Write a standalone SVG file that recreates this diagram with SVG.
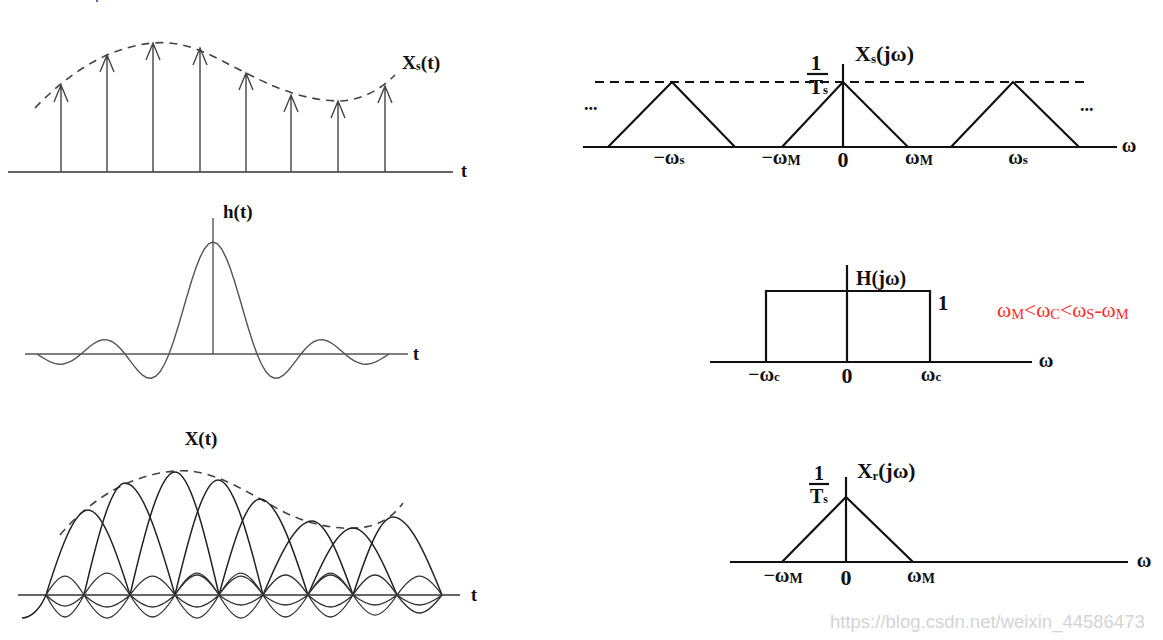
<svg xmlns="http://www.w3.org/2000/svg" width="1163" height="640" viewBox="0 0 1163 640">
<style>
.ax{stroke:#333;stroke-width:1.5;fill:none}
.imp{stroke:#444;stroke-width:1.4;fill:none}
.dash{stroke:#444;stroke-width:1.6;fill:none;stroke-dasharray:8 6}
.sinc{stroke:#555;stroke-width:1.4;fill:none}
.arch{stroke:#222;stroke-width:1.5;fill:none}
.lobe{stroke:#333;stroke-width:1.3;fill:none}
.bk{stroke:#111;stroke-width:2.2;fill:none}
.bkd{stroke:#111;stroke-width:2.2;fill:none;stroke-dasharray:9 6}
.lb{font-family:"Liberation Serif","Times New Roman",serif;font-weight:bold;fill:#111}
.wm{font-family:"Liberation Sans",Arial,sans-serif;fill:#d4d4d4}
.red{font-family:"Liberation Serif","Times New Roman",serif;fill:#ff2a2a}
</style>
<rect width="1163" height="640" fill="#fff"/>
<rect x="96" y="0" width="2" height="2" fill="#4a72b8"/>

<g id="sampled-signal">
<line class="ax" x1="8" y1="172" x2="453" y2="172"/>
<path class="dash" d="M35,108 C60,82 100,48 153,43 C190,40 215,58 246,73 C270,85 300,100 338,101 C360,101 380,90 395,75"/>
<path class="imp" d="M61,172V85M54,102L61,85L68,102"/>
<path class="imp" d="M107,172V55M100,72L107,55L114,72"/>
<path class="imp" d="M153,172V43M146,60L153,43L160,60"/>
<path class="imp" d="M200,172V48M193,65L200,48L207,65"/>
<path class="imp" d="M246,172V73M239,90L246,73L253,90"/>
<path class="imp" d="M291,172V95M284,112L291,95L298,112"/>
<path class="imp" d="M338,172V101M331,118L338,101L345,118"/>
<path class="imp" d="M385,172V86M378,103L385,86L392,103"/>
<text class="lb" x="402" y="69" font-size="19.5">X<tspan font-size="12" dy="1">s</tspan><tspan dy="-1">(t)</tspan></text>
<text class="lb" x="461" y="177" font-size="18">t</text>
</g>

<g id="impulse-response">
<line class="sinc" x1="25" y1="354" x2="408" y2="354"/>
<line class="sinc" x1="213" y1="218" x2="213" y2="354"/>
<polyline class="sinc" points="37,354 41.4,356.8 45.8,359.5 50.2,361.8 54.6,363.4 59,364.2 63.4,364 67.8,362.7 72.2,360.6 76.6,357.6 81,354 85.4,350.2 89.8,346.5 94.2,343.3 98.6,341 103,339.7 107.4,339.9 111.8,341.5 116.2,344.5 120.6,348.8 125,354 129.4,359.8 133.8,365.6 138.2,371 142.6,375.2 147,377.8 151.4,378.2 155.8,376.2 160.2,371.5 164.6,364 169,354 173.4,341.8 177.8,327.8 182.2,312.8 186.6,297.5 191,282.7 195.4,269.2 199.8,257.9 204.2,249.2 208.6,243.8 213,242 217.4,243.8 221.8,249.2 226.2,257.9 230.6,269.2 235,282.7 239.4,297.5 243.8,312.8 248.2,327.8 252.6,341.8 257,354 261.4,364 265.8,371.5 270.2,376.2 274.6,378.2 279,377.8 283.4,375.2 287.8,371 292.2,365.6 296.6,359.8 301,354 305.4,348.8 309.8,344.5 314.2,341.5 318.6,339.9 323,339.7 327.4,341 331.8,343.3 336.2,346.5 340.6,350.2 345,354 349.4,357.6 353.8,360.6 358.2,362.7 362.6,364 367,364.2 371.4,363.4 375.8,361.8 380.2,359.5 384.6,356.8 389,354"/>
<text class="lb" x="223" y="218" font-size="19">h(t)</text>
<text class="lb" x="413" y="360" font-size="18">t</text>
</g>

<g id="reconstructed-signal">
<line class="ax" x1="18" y1="595" x2="460" y2="595"/>
<path class="dash" d="M60,535 C85,505 125,475 175,471 C210,468 240,488 280,510 C310,526 345,532 370,526 C385,522 395,514 403,503"/>
<path class="arch" d="M22,618 C30,618 40,610 46,595 C60,550.4 74,510 88,510 C102,510 116,550.4 130,595"/>
<path class="arch" d="M84,595 C97.7,536.2 111.3,483 125,483 C141.7,483 158.3,536.2 175,595"/>
<path class="arch" d="M130,595 C145,530.4 160,472 175,472 C189.7,472 204.3,530.4 219,595"/>
<path class="arch" d="M175,595 C189.4,534.6 203.6,480 218,480 C233,480 248,534.6 263,595"/>
<path class="arch" d="M219,595 C232.7,544.6 246.3,499 260,499 C276,499 292,544.6 308,595"/>
<path class="arch" d="M263,595 C279.4,556.1 295.6,521 312,521 C325.7,521 339.3,556.1 353,595"/>
<path class="arch" d="M308,595 C323,559.8 338,528 353,528 C367.7,528 382.3,559.8 397,595"/>
<path class="arch" d="M353,595 C366.4,554 379.6,517 393,517 C409.4,517 425.6,554 442,595"/>
<path class="lobe" d="M46,595 C61.2,569.7 68.8,569.7 84,595 M46,595 C61.2,624.3 68.8,624.3 84,595 M46,595 C61.2,609.7 68.8,609.7 84,595"/>
<path class="lobe" d="M84,595 C102.4,565.7 111.6,565.7 130,595 M84,595 C102.4,625.7 111.6,625.7 130,595 M84,595 C102.4,611 111.6,611 130,595"/>
<path class="lobe" d="M130,595 C148,569.7 157,569.7 175,595 M130,595 C148,624.3 157,624.3 175,595 M130,595 C148,611 157,611 175,595"/>
<path class="lobe" d="M175,595 C192.6,565.7 201.4,565.7 219,595 M175,595 C192.6,568.3 201.4,568.3 219,595 M175,595 C192.6,625.7 201.4,625.7 219,595 M175,595 C192.6,611 201.4,611 219,595"/>
<path class="lobe" d="M219,595 C236.6,565.7 245.4,565.7 263,595 M219,595 C236.6,569.7 245.4,569.7 263,595 M219,595 C236.6,625.7 245.4,625.7 263,595 M219,595 C236.6,608.3 245.4,608.3 263,595"/>
<path class="lobe" d="M263,595 C281,568.3 290,568.3 308,595 M263,595 C281,624.3 290,624.3 308,595 M263,595 C281,608.3 290,608.3 308,595"/>
<path class="lobe" d="M308,595 C326,568.3 335,568.3 353,595 M308,595 C326,565.7 335,565.7 353,595 M308,595 C326,624.3 335,624.3 353,595 M308,595 C326,611 335,611 353,595"/>
<path class="lobe" d="M353,595 C370.6,568.3 379.4,568.3 397,595 M353,595 C370.6,621.7 379.4,621.7 397,595 M353,595 C370.6,608.3 379.4,608.3 397,595"/>
<path class="lobe" d="M397,595 C415,569.7 424,569.7 442,595 M397,595 C415,619 424,619 442,595 M397,595 C415,608.3 424,608.3 442,595"/>
<text class="lb" x="201" y="445" font-size="19" text-anchor="middle">X(t)</text>
<text class="lb" x="471" y="601" font-size="18">t</text>
</g>

<g id="sampled-spectrum">
<line class="bk" x1="583" y1="147" x2="1117" y2="147"/>
<line class="bk" x1="843" y1="64" x2="843" y2="147"/>
<line class="bkd" x1="595" y1="82" x2="1088" y2="82"/>
<polyline class="bk" points="608,147 672,82 735,147"/>
<polyline class="bk" points="782,147 843,82 908,147"/>
<polyline class="bk" points="951,147 1013,82 1079,147"/>
<text class="lb" x="816" y="70" font-size="21" text-anchor="middle">1</text>
<line class="bk" x1="807" y1="74" x2="828" y2="74"/>
<text class="lb" x="809" y="94" font-size="21">T<tspan font-size="13">s</tspan></text>
<text class="lb" x="855" y="61" font-size="22">X<tspan font-size="13" dy="2">s</tspan><tspan dy="-2">(jω)</tspan></text>
<text class="lb" x="584" y="110" font-size="18">...</text>
<text class="lb" x="1080" y="111" font-size="18">...</text>
<text class="lb" x="669" y="164" font-size="20" text-anchor="middle">−ω<tspan font-size="13">s</tspan></text>
<text class="lb" x="781" y="164" font-size="20" text-anchor="middle">−ω<tspan font-size="14" dy="1">M</tspan></text>
<text class="lb" x="843" y="167" font-size="22" text-anchor="middle">0</text>
<text class="lb" x="919" y="164" font-size="20" text-anchor="middle">ω<tspan font-size="14" dy="1">M</tspan></text>
<text class="lb" x="1018" y="164" font-size="20" text-anchor="middle">ω<tspan font-size="13">s</tspan></text>
<text class="lb" x="1129" y="152" font-size="20" text-anchor="middle" font-weight="normal">ω</text>
</g>

<g id="lowpass-filter">
<line class="bk" x1="710" y1="362" x2="1032" y2="362"/>
<line class="bk" x1="847" y1="265" x2="847" y2="362"/>
<polyline class="bk" points="766,362 766,291 930,291 930,362"/>
<text class="lb" x="856" y="285" font-size="20">H(jω)</text>
<text class="lb" x="943" y="310" font-size="21" text-anchor="middle">1</text>
<text class="lb" x="764" y="381" font-size="20" text-anchor="middle">−ω<tspan font-size="13">c</tspan></text>
<text class="lb" x="847" y="383" font-size="22" text-anchor="middle">0</text>
<text class="lb" x="931" y="381" font-size="20" text-anchor="middle">ω<tspan font-size="13">c</tspan></text>
<text class="lb" x="1046" y="367" font-size="20" text-anchor="middle" font-weight="normal">ω</text>
<text class="red" x="997" y="317" font-size="21.5">ω<tspan font-size="14.5" dy="2">M</tspan><tspan dy="-2">&lt;ω</tspan><tspan font-size="14.5" dy="2">C</tspan><tspan dy="-2">&lt;ω</tspan><tspan font-size="14.5" dy="2">S</tspan><tspan dy="-2">-ω</tspan><tspan font-size="14.5" dy="2">M</tspan></text>
</g>

<g id="recovered-spectrum">
<line class="bk" x1="730" y1="562" x2="1128" y2="562"/>
<line class="bk" x1="846" y1="477" x2="846" y2="562"/>
<polyline class="bk" points="782,562 846,497 913,562"/>
<text class="lb" x="819" y="480" font-size="20" text-anchor="middle">1</text>
<line class="bk" x1="809" y1="484" x2="829" y2="484"/>
<text class="lb" x="810" y="503" font-size="20">T<tspan font-size="12">s</tspan></text>
<text class="lb" x="857" y="478" font-size="21.5">X<tspan font-size="13" dy="2">r</tspan><tspan dy="-2">(jω)</tspan></text>
<text class="lb" x="783" y="582" font-size="20" text-anchor="middle">−ω<tspan font-size="14" dy="1">M</tspan></text>
<text class="lb" x="846" y="585" font-size="22" text-anchor="middle">0</text>
<text class="lb" x="921" y="582" font-size="20" text-anchor="middle">ω<tspan font-size="14" dy="1">M</tspan></text>
<text class="lb" x="1144" y="567" font-size="20" text-anchor="middle" font-weight="normal">ω</text>
</g>

<g id="connectors"></g>
<text class="wm" x="830" y="628" font-size="18.5">https://blog.csdn.net/weixin_44586473</text>
</svg>
